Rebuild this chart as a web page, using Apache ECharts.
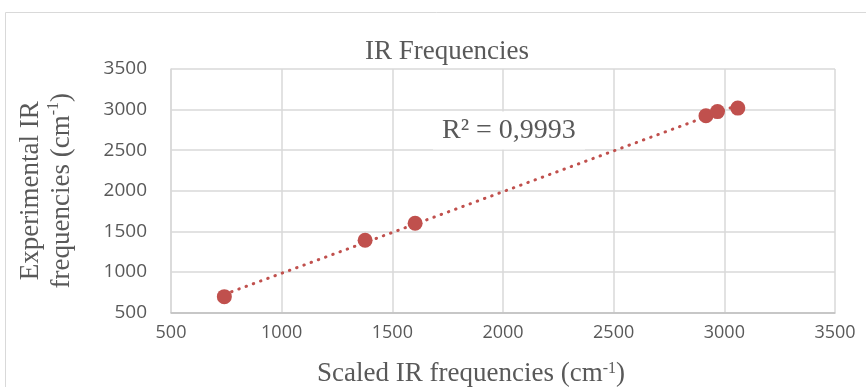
<!DOCTYPE html>
<html>
<head>
<meta charset="utf-8">
<script src="https://cdn.jsdelivr.net/npm/echarts@6/dist/echarts.min.js"></script>
<style>
html,body{margin:0;padding:0;background:#fff;}
#c{width:866px;height:387px;}
</style>
</head>
<body>
<div id="c"></div>
<script>
// Data
const scaledFreq = [741, 1377, 1603, 2917, 2969, 3061];
const expFreq    = [695, 1390, 1600, 2924, 2975, 3018];
const xTicks = [500, 1000, 1500, 2000, 2500, 3000, 3500];
const yTicks = [500, 1000, 1500, 2000, 2500, 3000, 3500];
const title = 'IR Frequencies';
const r2Text = 'R² = 0,9993';

// linear regression trendline from the data
const n = scaledFreq.length;
const mx = scaledFreq.reduce((a,b)=>a+b,0)/n;
const my = expFreq.reduce((a,b)=>a+b,0)/n;
let sxy=0, sxx=0;
for(let i=0;i<n;i++){ sxy+=(scaledFreq[i]-mx)*(expFreq[i]-my); sxx+=(scaledFreq[i]-mx)**2; }
const slope = sxy/sxx, icpt = my - slope*mx;
const x0 = Math.min(...scaledFreq), x1 = Math.max(...scaledFreq);
const trend = [[x0, icpt+slope*x0],[x1, icpt+slope*x1]];

const red = '#C0504D';
const grey = '#595959';
const serif = '"Liberation Serif","Times New Roman",serif';
const sans = '"Open Sans","Liberation Sans",sans-serif';
const supRich = {s:{fontFamily:serif,fontSize:16,color:grey,verticalAlign:'top',padding:[0,0,10,0]}};

const chart = echarts.init(document.getElementById('c'), null, {renderer:'canvas'});
chart.setOption({
  animation:false,
  backgroundColor:'#fff',
  title:{text:title,left:442,top:33,textAlign:'center',
    textStyle:{fontFamily:serif,fontSize:27,fontWeight:'normal',color:grey}},
  grid:{left:171,right:31,top:69,bottom:74.5,containLabel:false,outerBoundsMode:'none'},
  xAxis:{type:'value',min:xTicks[0],max:xTicks[xTicks.length-1],interval:500,
    name:'Scaled IR frequencies (cm{s|-1})',nameLocation:'middle',nameGap:48,
    nameTextStyle:{fontFamily:serif,fontSize:27,color:grey,rich:supRich,padding:[0,64,0,0]},
    axisLine:{lineStyle:{color:'#BFBFBF',width:1.5}},
    axisTick:{show:false},
    axisLabel:{fontFamily:sans,fontSize:18,color:grey,margin:11,formatter:v=>String(v)},
    splitLine:{show:true,lineStyle:{color:'#D9D9D9',width:1.5}}},
  yAxis:{type:'value',min:yTicks[0],max:yTicks[yTicks.length-1],interval:500,
    name:'Experimental IR\nfrequencies (cm{s|-1})',nameLocation:'middle',nameGap:94,
    nameTextStyle:{fontFamily:serif,fontSize:27,color:grey,lineHeight:31,rich:supRich},
    axisLine:{show:true,lineStyle:{color:'#D9D9D9',width:1.5}},
    axisTick:{show:false},
    axisLabel:{fontFamily:sans,fontSize:19,color:grey,margin:24,formatter:v=>String(v)},
    splitLine:{show:true,lineStyle:{color:'#D9D9D9',width:1.5}}},
  graphic:[
    {type:'rect',shape:{x:5.5,y:12.5,width:870,height:400},
      style:{fill:'none',stroke:'#D9D9D9',lineWidth:1},z:-10,silent:true},
    {type:'rect',shape:{x:433,y:111.5,width:152,height:38},
      style:{fill:'#fff'},z:5,silent:true},
    {type:'text',left:442,top:117,z:6,
      style:{text:r2Text,fontFamily:serif,fontSize:28,fill:grey}}
  ],
  series:[
    {type:'line',data:trend,symbol:'none',z:3,
      lineStyle:{color:red,width:3,type:[0.5,7.2],cap:'round'}},
    {type:'scatter',data:scaledFreq.map((x,i)=>[x,expFreq[i]]),symbolSize:15,z:4,
      itemStyle:{color:red,opacity:1}}
  ]
});
</script>
</body>
</html>
